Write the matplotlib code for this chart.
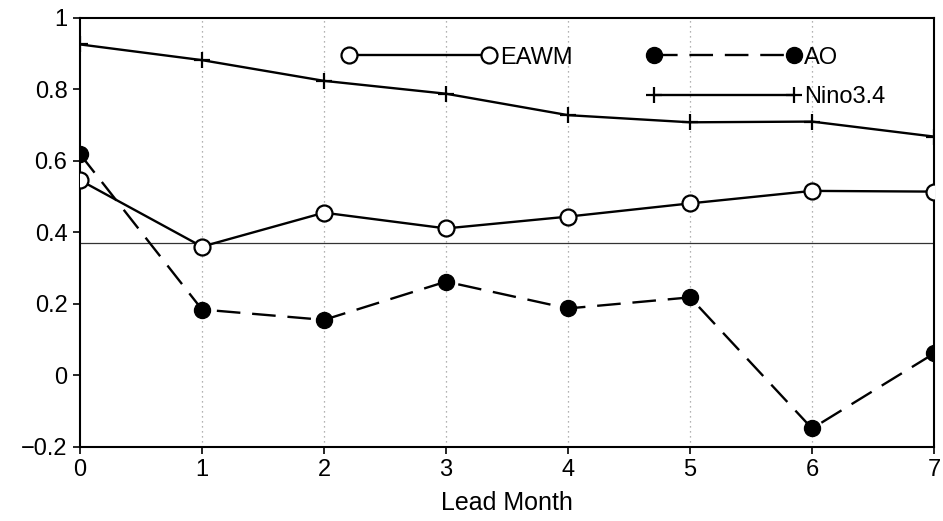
import matplotlib
matplotlib.use("Agg")
import matplotlib.pyplot as plt
from matplotlib.lines import Line2D
from matplotlib.legend_handler import HandlerLine2D

lead = [0, 1, 2, 3, 4, 5, 6, 7]
eawm = [0.546, 0.360, 0.455, 0.411, 0.444, 0.481, 0.516, 0.514]
ao = [0.619, 0.184, 0.155, 0.262, 0.187, 0.218, -0.149, 0.061]
nino34 = [0.926, 0.882, 0.824, 0.788, 0.728, 0.708, 0.710, 0.668]
sig_level = 0.37
xticks = [0, 1, 2, 3, 4, 5, 6, 7]
yticks = [-0.2, 0, 0.2, 0.4, 0.6, 0.8, 1]
ytick_labels = ["\u22120.2", "0", "0.2", "0.4", "0.6", "0.8", "1"]

plt.rcParams['font.family'] = ['Liberation Sans', 'DejaVu Sans']
fig = plt.figure(figsize=(9.43, 5.21), dpi=100)
ax = fig.add_axes([0.0848, 0.1426, 0.9057, 0.8229])

for xv in xticks[1:-1]:
    ax.axvline(xv, color='#999999', lw=0.9, ls=(0, (1, 3)), zorder=0)
ax.axhline(sig_level, color='#333333', lw=0.9, zorder=1)

l1, = ax.plot(lead, eawm, '-', color='black', lw=1.7, marker='o', ms=11.5,
              mfc='white', mec='black', mew=1.6, label='EAWM', zorder=3)
l2, = ax.plot(lead, ao, color='black', lw=1.7, ls=(0, (10, 5)), marker='o', ms=11.5,
              mfc='black', mec='black', label='AO', zorder=3)
l3, = ax.plot(lead, nino34, '-', color='black', lw=1.7, marker='+', ms=12,
              mew=1.6, label='Nino3.4', zorder=3)

ax.set_xlim(0, 7)
ax.set_ylim(-0.2, 1)
ax.set_xticks(xticks)
ax.set_yticks(yticks)
ax.set_yticklabels(ytick_labels)
ax.tick_params(axis='both', direction='out', length=5, width=1.2, labelsize=17,
               top=False, right=False, pad=4)
for s in ax.spines.values():
    s.set_linewidth(1.5)
ax.set_xlabel('Lead Month', fontsize=18, labelpad=7)

blank = Line2D([], [], color='none')
leg = ax.legend([l1, blank, l2, l3], ['EAWM', '', 'AO', 'Nino3.4'], ncol=2,
                numpoints=2, loc='upper left', bbox_to_anchor=(0.315, 0.933),
                frameon=False, fontsize=17, handlelength=5.93, handletextpad=0.45,
                columnspacing=3.45, labelspacing=0.74, borderpad=0.0,
                borderaxespad=0.0,
                handler_map={Line2D: HandlerLine2D(marker_pad=0)})

fig.savefig('out.png', dpi=100)
